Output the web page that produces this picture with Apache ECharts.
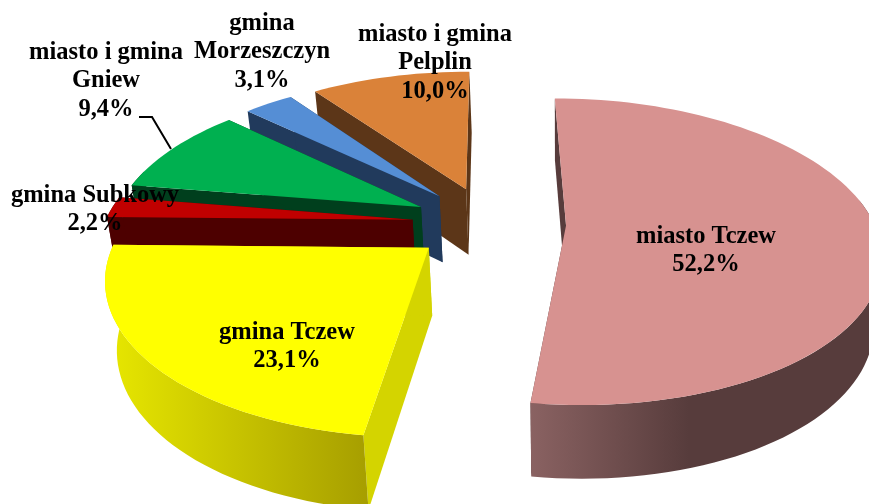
<!DOCTYPE html>
<html>
<head>
<meta charset="utf-8">
<style>html,body{margin:0;padding:0;background:#fff}#chart{width:869px;height:504px}</style>
<script src="https://cdn.jsdelivr.net/npm/echarts@6/dist/echarts.min.js"></script>
</head>
<body>
<div id="chart"></div>
<script>
// clockwise from 12 o'clock
var categories = ['miasto Tczew', 'gmina Tczew', 'gmina Subkowy', 'miasto i gmina\nGniew', 'gmina\nMorzeszczyn', 'miasto i gmina\nPelplin'];
var shares = [52.2, 23.1, 2.2, 9.4, 3.1, 10.0];

var topColors = ['#d79290', '#ffff00', '#c00000', '#00b050', '#558ed5', '#da8239'];
var cutColors = ['#573c3c', '#d4d400', '#4d0000', '#003f1d', '#213a5c', '#5c3618'];
var wallStops = [
    [[0, '#8a6262'], [0.45, '#573c3c'], [1, '#573c3c']],
    [[0, '#e8e800'], [1, '#a69e00']],
    [[0, '#4d0000'], [1, '#4d0000']],
    [[0, '#003f1d'], [1, '#003f1d']],
    [[0, '#213a5c'], [1, '#213a5c']],
    [[0, '#5c3618'], [1, '#5c3618']]
];
// label centres, first line
var labelPos = [[706, 236], [287, 332], [95, 195], [106, 52], [262, 23], [435, 34]];

// pie projection
var cx = 489, cy = 223, rx = 308, ry = 148, persp = 0.17, depth = 67, explode = 0.25, firstAngle = 0;
var vanishX = 560, vanishRate = 0.026;
var total = shares.reduce(function (a, b) { return a + b; }, 0);

function rad(d) { return d * Math.PI / 180; }
function project(x, y, z) {
    var w = 1 / (1 + persp * y);
    var sx = cx + rx * x * w;
    return [sx + (vanishX - sx) * vanishRate * z, cy - ry * y * w + depth * z * Math.sqrt(w)];
}
function sliceAngles(i) {
    var before = 0;
    for (var k = 0; k < i; k++) before += shares[k];
    var a0 = firstAngle + before / total * 360;
    return [a0, a0 + shares[i] / total * 360];
}
function arcPoints(ox, oy, a0, a1, z) {
    var pts = [], n = Math.max(2, Math.ceil((a1 - a0) / 2));
    for (var j = 0; j <= n; j++) {
        var t = rad(a0 + (a1 - a0) * j / n);
        pts.push(project(ox + Math.sin(t), oy + Math.cos(t), z));
    }
    return pts;
}
function poly(points, fill) {
    return { type: 'polygon', shape: { points: points }, style: { fill: fill, stroke: null } };
}

function renderSlice(params) {
    var i = categories.length - 1 - params.dataIndex; // painted back to front
    var ang = sliceAngles(i);
    var mid = rad((ang[0] + ang[1]) / 2);
    var ox = explode * Math.sin(mid), oy = explode * Math.cos(mid);
    var apexTop = project(ox, oy, 0), apexBottom = project(ox, oy, 1);
    var topArc = arcPoints(ox, oy, ang[0], ang[1], 0);
    var bottomArc = arcPoints(ox, oy, ang[0], ang[1], 1);
    var children = [];
    // cut faces
    children.push(poly([apexTop, topArc[0], bottomArc[0], apexBottom], cutColors[i]));
    children.push(poly([apexTop, topArc[topArc.length - 1], bottomArc[bottomArc.length - 1], apexBottom], cutColors[i]));
    // rim, only the part turned to the viewer
    var w0 = Math.max(ang[0], 80), w1 = Math.min(ang[1], 285);
    if (w1 > w0) {
        var rimTop = arcPoints(ox, oy, w0, w1, 0);
        var rimBottom = arcPoints(ox, oy, w0, w1, 1).reverse();
        var stops = wallStops[i].map(function (s) { return { offset: s[0], color: s[1] }; });
        // arc runs right to left on the front, gradient stays left to right
        children.push(poly(rimTop.concat(rimBottom), new echarts.graphic.LinearGradient(0, 0, 1, 0, stops)));
    }
    // top face
    children.push(poly([apexTop].concat(topArc), topColors[i]));
    return { type: 'group', children: children };
}

function renderLabel(params) {
    var i = params.dataIndex;
    var text = categories[i] + '\n' + shares[i].toFixed(1).replace('.', ',') + '%';
    return {
        type: 'text',
        style: {
            text: text, x: labelPos[i][0], y: labelPos[i][1] - 14,
            align: 'center', verticalAlign: 'top', lineHeight: 28.5,
            font: 'bold 24.5px "Liberation Serif"', fill: '#000'
        }
    };
}

var chart = echarts.init(document.getElementById('chart'), null, { renderer: 'canvas' });
chart.setOption({
    animation: false,
    backgroundColor: '#fff',
    series: [
        { type: 'custom', coordinateSystem: 'none', renderItem: renderSlice, data: shares.slice().reverse(), silent: true, z: 1 },
        { type: 'custom', coordinateSystem: 'none', renderItem: function () {
            return { type: 'polyline', shape: { points: [[139, 117], [152, 117], [171, 149]] }, style: { stroke: '#000', lineWidth: 2, fill: null } };
        }, data: [1], silent: true, z: 2 },
        { type: 'custom', coordinateSystem: 'none', renderItem: renderLabel, data: shares, silent: true, z: 3 }
    ]
});
</script>
</body>
</html>
